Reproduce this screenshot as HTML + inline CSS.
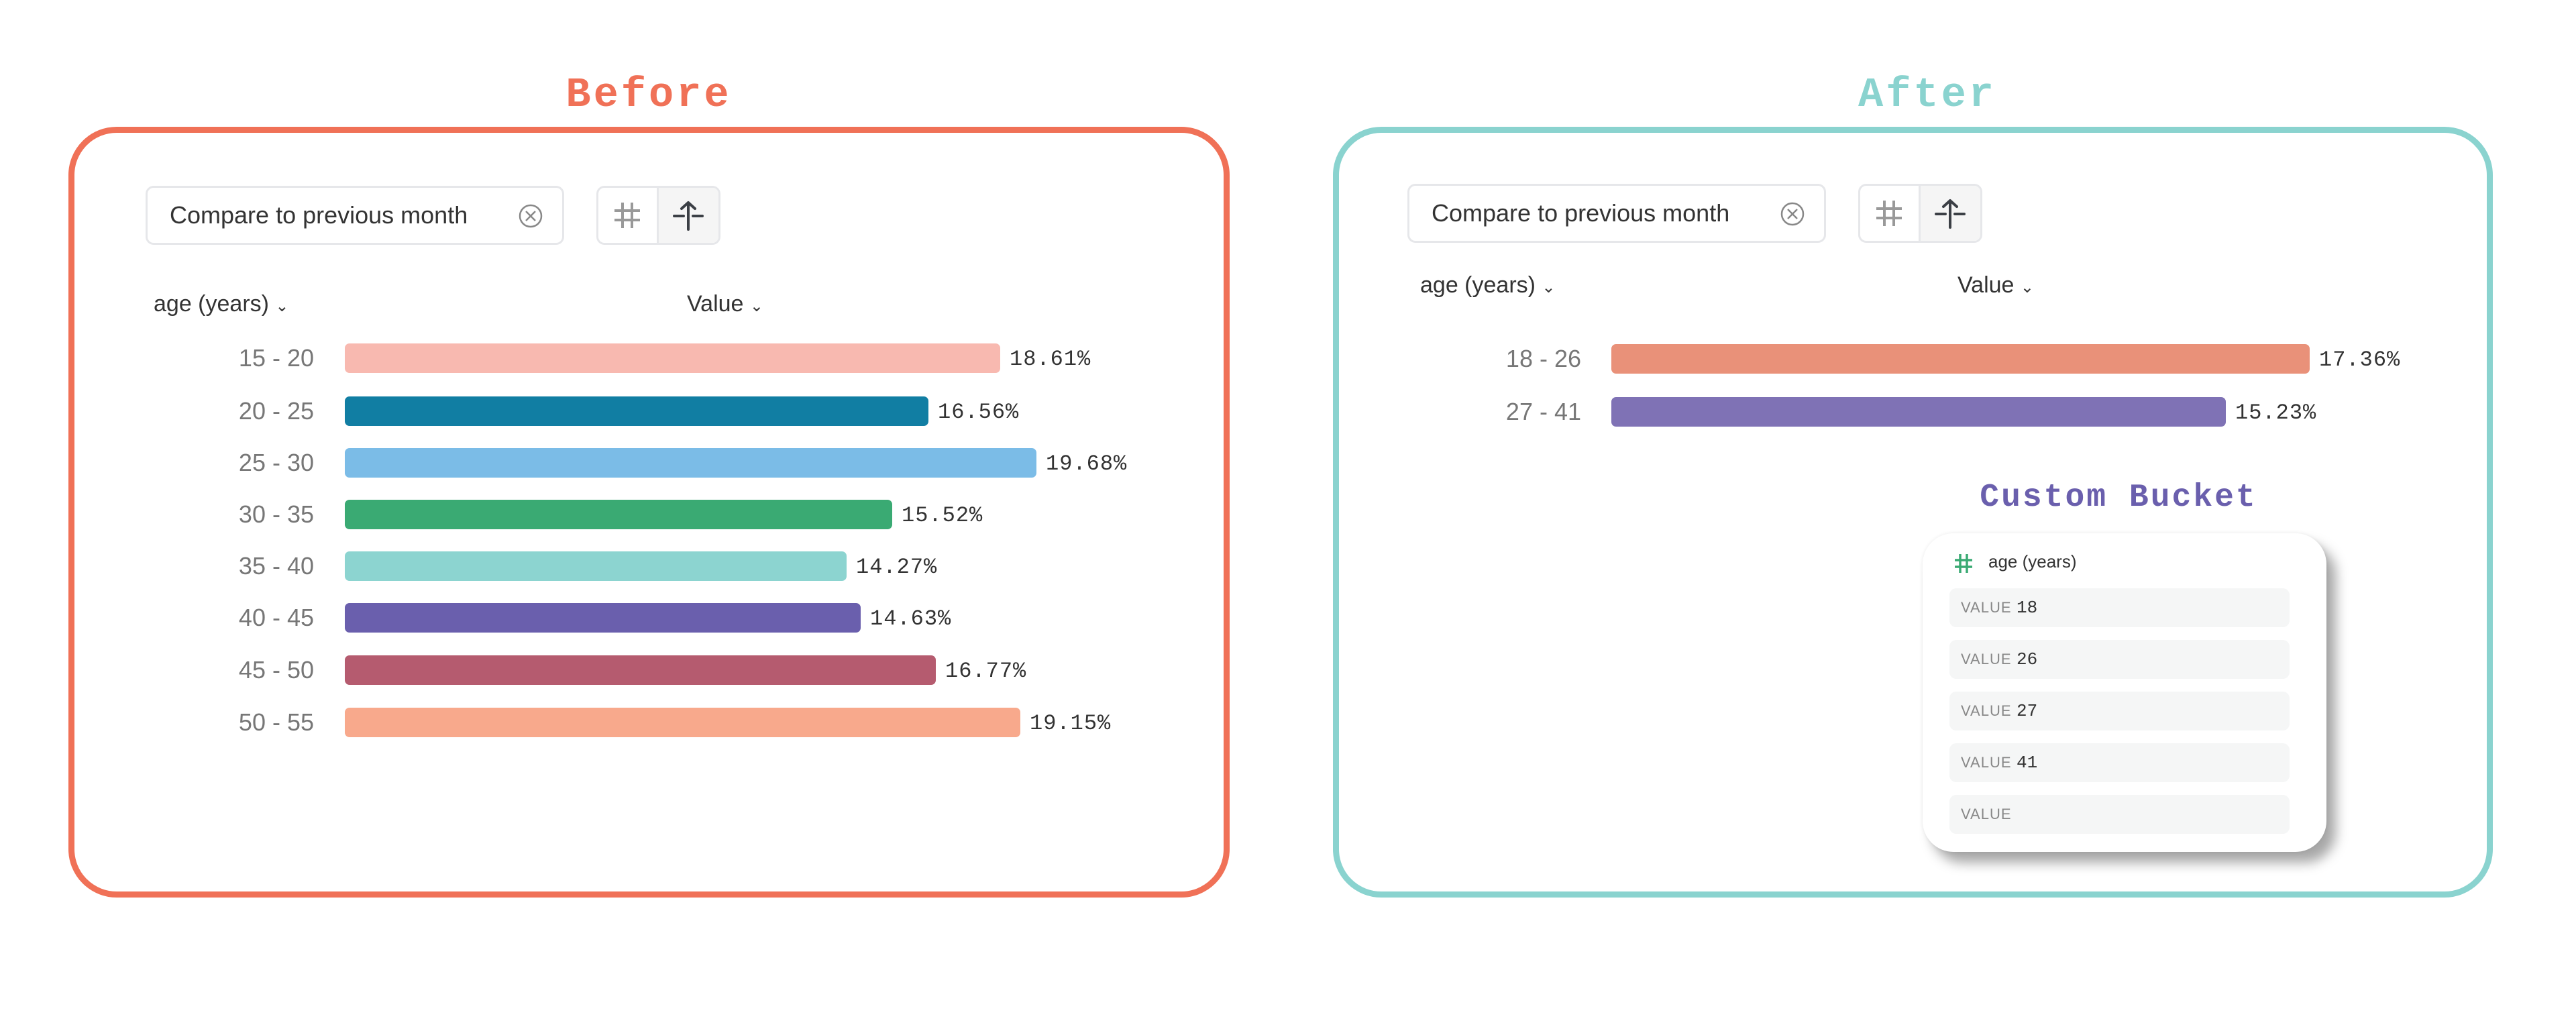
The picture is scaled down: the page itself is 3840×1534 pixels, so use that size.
<!DOCTYPE html>
<html><head><meta charset="utf-8"><style>
*{margin:0;padding:0;box-sizing:border-box}
body{width:3840px;height:1534px;background:#fff;position:relative;overflow:hidden;font-family:"Liberation Sans",sans-serif}
.a{position:absolute}
.box{position:absolute;border:9px solid;border-radius:72px}
.title{position:absolute;font-family:"Liberation Mono",monospace;font-weight:bold;font-size:62px;letter-spacing:4px;transform:translateX(-50%)}
.pill{position:absolute;border:3px solid #e6e7ea;border-radius:12px;background:#fff;font-size:36px;color:#333;display:flex;align-items:center;padding-left:33px}
.tog{position:absolute;border:3px solid #e6e7ea;border-radius:12px;overflow:hidden;display:flex}
.tog div{width:50%;height:100%;display:flex;align-items:center;justify-content:center}
.hdr{position:absolute;font-size:34px;color:#333}
.lbl{position:absolute;font-size:36px;color:#777;text-align:right;width:200px;line-height:44px}
.bar{position:absolute;height:44px;border-radius:7px}
.val{position:absolute;font-family:"Liberation Mono",monospace;font-size:32px;color:#333;line-height:44px;letter-spacing:1px}
.inp{position:absolute;left:2906px;width:507px;height:58px;background:#f5f6f6;border-radius:10px;display:flex;align-items:center;padding-left:17px}
.inp span.k{font-size:22px;color:#888;letter-spacing:1px;width:66px}
.inp span.v{font-family:"Liberation Mono",monospace;font-size:26px;color:#333;margin-left:17px}
</style></head><body>

<!-- BEFORE -->
<div class="title" style="left:967px;top:106px;color:#f07157">Before</div>
<div class="box" style="left:102px;top:189px;width:1731px;height:1149px;border-color:#f07157"></div>
<div class="pill" style="left:217px;top:277px;width:624px;height:88px">Compare to previous month
<svg class="a" style="left:552px;top:23px" width="38" height="38" viewBox="0 0 38 38"><circle cx="19" cy="19" r="16" fill="none" stroke="#888" stroke-width="2.5"/><path d="M12 12L26 26M26 12L12 26" stroke="#888" stroke-width="2.5"/></svg></div>
<div class="tog" style="left:889px;top:277px;width:185px;height:88px">
<div style="border-right:3px solid #e6e7ea"><svg width="46" height="46" viewBox="0 0 46 46"><path d="M16 4V42M30 4V42M4 16H42M4 30H42" stroke="#999" stroke-width="4"/></svg></div>
<div style="background:#f5f5f5"><svg width="50" height="50" viewBox="0 0 50 50"><path d="M25 6V46M15 15L25 6L35 15M4 26H18M32 26H46" stroke="#3b3f45" stroke-width="4" fill="none" stroke-linecap="round" stroke-linejoin="round"/></svg></div></div>
<div class="hdr" style="left:229px;top:434px">age (years) <span style="font-size:24px">&#8964;</span></div>
<div class="hdr" style="left:1024px;top:434px">Value <span style="font-size:24px">&#8964;</span></div>

<div class="lbl" style="left:268px;top:512px">15 - 20</div><div class="bar" style="left:514px;top:512px;width:977px;background:#f8b9b0"></div><div class="val" style="left:1505px;top:514px">18.61%</div>
<div class="lbl" style="left:268px;top:591px">20 - 25</div><div class="bar" style="left:514px;top:591px;width:870px;background:#117ea3"></div><div class="val" style="left:1398px;top:593px">16.56%</div>
<div class="lbl" style="left:268px;top:668px">25 - 30</div><div class="bar" style="left:514px;top:668px;width:1031px;background:#7bbce7"></div><div class="val" style="left:1559px;top:670px">19.68%</div>
<div class="lbl" style="left:268px;top:745px">30 - 35</div><div class="bar" style="left:514px;top:745px;width:816px;background:#3aaa73"></div><div class="val" style="left:1344px;top:747px">15.52%</div>
<div class="lbl" style="left:268px;top:822px">35 - 40</div><div class="bar" style="left:514px;top:822px;width:748px;background:#8cd4d0"></div><div class="val" style="left:1276px;top:824px">14.27%</div>
<div class="lbl" style="left:268px;top:899px">40 - 45</div><div class="bar" style="left:514px;top:899px;width:769px;background:#6a5fad"></div><div class="val" style="left:1297px;top:901px">14.63%</div>
<div class="lbl" style="left:268px;top:977px">45 - 50</div><div class="bar" style="left:514px;top:977px;width:881px;background:#b55b6f"></div><div class="val" style="left:1409px;top:979px">16.77%</div>
<div class="lbl" style="left:268px;top:1055px">50 - 55</div><div class="bar" style="left:514px;top:1055px;width:1007px;background:#f8a98c"></div><div class="val" style="left:1535px;top:1057px">19.15%</div>

<!-- AFTER -->
<div class="title" style="left:2873px;top:106px;color:#8ad3cf">After</div>
<div class="box" style="left:1987px;top:189px;width:1729px;height:1149px;border-color:#8ad3cf"></div>
<div class="pill" style="left:2098px;top:274px;width:624px;height:88px">Compare to previous month
<svg class="a" style="left:552px;top:23px" width="38" height="38" viewBox="0 0 38 38"><circle cx="19" cy="19" r="16" fill="none" stroke="#888" stroke-width="2.5"/><path d="M12 12L26 26M26 12L12 26" stroke="#888" stroke-width="2.5"/></svg></div>
<div class="tog" style="left:2770px;top:274px;width:185px;height:88px">
<div style="border-right:3px solid #e6e7ea"><svg width="46" height="46" viewBox="0 0 46 46"><path d="M16 4V42M30 4V42M4 16H42M4 30H42" stroke="#999" stroke-width="4"/></svg></div>
<div style="background:#f5f5f5"><svg width="50" height="50" viewBox="0 0 50 50"><path d="M25 6V46M15 15L25 6L35 15M4 26H18M32 26H46" stroke="#3b3f45" stroke-width="4" fill="none" stroke-linecap="round" stroke-linejoin="round"/></svg></div></div>
<div class="hdr" style="left:2117px;top:406px">age (years) <span style="font-size:24px">&#8964;</span></div>
<div class="hdr" style="left:2918px;top:406px">Value <span style="font-size:24px">&#8964;</span></div>

<div class="lbl" style="left:2157px;top:513px">18 - 26</div><div class="bar" style="left:2402px;top:513px;width:1041px;background:#e99179"></div><div class="val" style="left:3457px;top:515px">17.36%</div>
<div class="lbl" style="left:2157px;top:592px">27 - 41</div><div class="bar" style="left:2402px;top:592px;width:916px;background:#7f72b5"></div><div class="val" style="left:3332px;top:594px">15.23%</div>

<div class="title" style="left:3158px;top:715px;color:#6a5fad;font-size:48px;letter-spacing:3px">Custom Bucket</div>
<div class="a" style="left:2866px;top:795px;width:602px;height:475px;background:#fff;border-radius:46px;box-shadow:14px 16px 18px rgba(0,0,0,0.35),0 0 6px rgba(0,0,0,0.08)"></div>
<svg class="a" style="left:2912px;top:824px" width="30" height="32" viewBox="0 0 30 32"><path d="M10 2V30M20 2V30M2 11H28M2 21H28" stroke="#3aaa73" stroke-width="3.5"/></svg>
<div class="a" style="left:2964px;top:822px;font-size:26px;color:#333">age (years)</div>
<div class="inp" style="top:877px"><span class="k">VALUE</span><span class="v">18</span></div>
<div class="inp" style="top:954px"><span class="k">VALUE</span><span class="v">26</span></div>
<div class="inp" style="top:1031px"><span class="k">VALUE</span><span class="v">27</span></div>
<div class="inp" style="top:1108px"><span class="k">VALUE</span><span class="v">41</span></div>
<div class="inp" style="top:1185px"><span class="k">VALUE</span></div>
</body></html>
